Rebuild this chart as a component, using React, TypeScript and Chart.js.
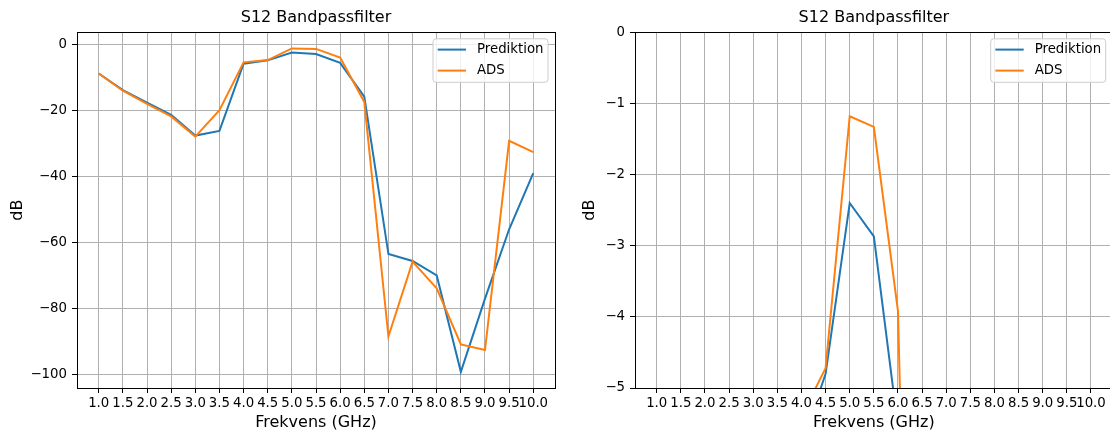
import React, { useEffect, useRef } from "react";
import { Chart, registerables } from "chart.js";

Chart.register(...registerables);

const FONT = "'DejaVu Sans', sans-serif";

const frequencies = [1.0, 1.5, 2.0, 2.5, 3.0, 3.5, 4.0, 4.5, 5.0, 5.5, 6.0, 6.5, 7.0, 7.5, 8.0, 8.5, 9.0, 9.5, 10.0];
const prediktion = [-8.8, -13.8, -17.6, -21.3, -27.6, -26.2, -5.8, -4.8, -2.4, -2.87, -5.55, -15.8, -63.5, -65.6, -70.0, -99.2, -77.0, -56.0, -39.0];
const ads = [-8.8, -14.0, -18.0, -21.8, -27.9, -19.9, -5.4, -4.72, -1.18, -1.33, -3.92, -17.4, -88.5, -65.8, -73.9, -90.9, -92.6, -29.2, -32.6];
const seriesLabels = ["Prediktion", "ADS"];
const seriesColors = ["#1f77b4", "#ff7f0e"];
const xTicks = [1.0, 1.5, 2.0, 2.5, 3.0, 3.5, 4.0, 4.5, 5.0, 5.5, 6.0, 6.5, 7.0, 7.5, 8.0, 8.5, 9.0, 9.5, 10.0];
const leftYTicks = [0, -20, -40, -60, -80, -100];
const rightYTicks = [0, -1, -2, -3, -4, -5];
const chartTitle = "S12 Bandpassfilter";
const xLabel = "Frekvens (GHz)";
const yLabel = "dB";

const framePlugin = {
  id: "frame",
  afterDatasetsDraw(chart: any) {
    const { ctx, chartArea } = chart;
    ctx.save();
    ctx.strokeStyle = "#000";
    ctx.lineWidth = 1;
    ctx.strokeRect(
      Math.round(chartArea.left) + 0.5,
      Math.round(chartArea.top) + 0.5,
      Math.round(chartArea.right - chartArea.left),
      Math.round(chartArea.bottom - chartArea.top)
    );
    ctx.restore();
  },
};

const legendPlugin = {
  id: "innerLegend",
  afterDatasetsDraw(chart: any) {
    const { ctx, chartArea } = chart;
    const w = 115;
    const h = 43.5;
    const x = chartArea.right - 7 - w;
    const y = chartArea.top + 6.5;
    ctx.save();
    ctx.beginPath();
    const r = 3;
    ctx.moveTo(x + r, y);
    ctx.lineTo(x + w - r, y);
    ctx.quadraticCurveTo(x + w, y, x + w, y + r);
    ctx.lineTo(x + w, y + h - r);
    ctx.quadraticCurveTo(x + w, y + h, x + w - r, y + h);
    ctx.lineTo(x + r, y + h);
    ctx.quadraticCurveTo(x, y + h, x, y + h - r);
    ctx.lineTo(x, y + r);
    ctx.quadraticCurveTo(x, y, x + r, y);
    ctx.closePath();
    ctx.fillStyle = "rgba(255,255,255,0.8)";
    ctx.fill();
    ctx.strokeStyle = "#cccccc";
    ctx.lineWidth = 1;
    ctx.stroke();
    chart.data.datasets.forEach((ds: any, i: number) => {
      const rowY = y + 10.8 + i * 21;
      ctx.beginPath();
      ctx.strokeStyle = ds.borderColor;
      ctx.lineWidth = 2;
      ctx.moveTo(x + 4.7, rowY);
      ctx.lineTo(x + 33, rowY);
      ctx.stroke();
      ctx.fillStyle = "#000";
      ctx.font = `13.3px ${FONT}`;
      ctx.textBaseline = "middle";
      ctx.textAlign = "left";
      ctx.fillText(ds.label, x + 44, rowY);
    });
    ctx.restore();
  },
};

function fmtY(v: number) {
  return v < 0 ? "\u2212" + Math.abs(v) : String(v);
}

function makeConfig(yMin: number, yMax: number, yTicks: number[], yWidth: number, padRight: number) {
  const series = [prediktion, ads];
  return {
    type: "line" as const,
    data: {
      datasets: series.map((vals, i) => ({
        label: seriesLabels[i],
        data: frequencies.map((f, j) => ({ x: f, y: vals[j] })),
        borderColor: seriesColors[i],
        backgroundColor: seriesColors[i],
        borderWidth: 2,
        pointRadius: 0,
        tension: 0,
        fill: false,
        clip: 0,
        order: series.length - i,
      })),
    },
    options: {
      animation: false as const,
      responsive: false,
      maintainAspectRatio: false,
      devicePixelRatio: 1,
      layout: { padding: { left: 0, right: padRight, top: 0, bottom: 0 } },
      plugins: {
        legend: { display: false },
        tooltip: { enabled: false },
        title: {
          display: true,
          text: chartTitle,
          fullSize: false,
          color: "#000",
          font: { family: FONT, size: 16, weight: "normal" as const, lineHeight: 1.2 },
          padding: { top: 8, bottom: 5.1 },
        },
      },
      scales: {
        x: {
          type: "linear" as const,
          min: 0.55,
          max: 10.45,
          afterBuildTicks: (s: any) => {
            s.ticks = xTicks.map((v) => ({ value: v }));
          },
          afterFit: (s: any) => {
            s.height = 44;
          },
          ticks: {
            callback: (v: any) => Number(v).toFixed(1),
            color: "#000",
            font: { family: FONT, size: 13.3 },
            padding: 3,
            autoSkip: false,
            maxRotation: 0,
            minRotation: 0,
          },
          grid: { color: "#b0b0b0", lineWidth: 1, drawTicks: true, tickLength: 5, tickColor: "#000", tickWidth: 1 },
          border: { display: false },
          title: {
            display: true,
            text: xLabel,
            color: "#000",
            font: { family: FONT, size: 16, lineHeight: 1.2 },
            padding: { top: 0, bottom: 0 },
          },
        },
        y: {
          type: "linear" as const,
          min: yMin,
          max: yMax,
          afterBuildTicks: (s: any) => {
            s.ticks = yTicks.map((v) => ({ value: v }));
          },
          afterFit: (s: any) => {
            s.width = yWidth;
          },
          ticks: {
            callback: (v: any) => fmtY(Number(v)),
            color: "#000",
            font: { family: FONT, size: 13.3 },
            padding: 5,
          },
          grid: { color: "#b0b0b0", lineWidth: 1, drawTicks: true, tickLength: 5, tickColor: "#000", tickWidth: 1 },
          border: { display: false },
          title: {
            display: true,
            text: yLabel,
            color: "#000",
            font: { family: FONT, size: 16, lineHeight: 1.2 },
            padding: { top: 8.7, bottom: 0 },
          },
        },
      },
    },
    plugins: [framePlugin, legendPlugin],
  };
}

function ChartCanvas(props: { left: number; width: number; cfg: any }) {
  const ref = useRef<HTMLCanvasElement | null>(null);
  useEffect(() => {
    if (!ref.current) return;
    const chart = new Chart(ref.current, props.cfg);
    return () => chart.destroy();
  }, []);
  return (
    <canvas
      ref={ref}
      width={props.width}
      height={432}
      style={{ position: "absolute", left: props.left, top: 0, width: props.width, height: 432 }}
    />
  );
}

export default function App() {
  const leftCfg = makeConfig(-104.1, 3.7, leftYTicks, 77, 5);
  const rightCfg = makeConfig(-5, 0, rightYTicks, 63, 4.3);
  return (
    <div
      style={{
        position: "fixed",
        left: 0,
        top: 0,
        width: 1110,
        height: 432,
        overflow: "hidden",
        background: "#fff",
      }}
    >
      <ChartCanvas left={0} width={560} cfg={leftCfg} />
      <ChartCanvas left={572} width={545} cfg={rightCfg} />
    </div>
  );
}
